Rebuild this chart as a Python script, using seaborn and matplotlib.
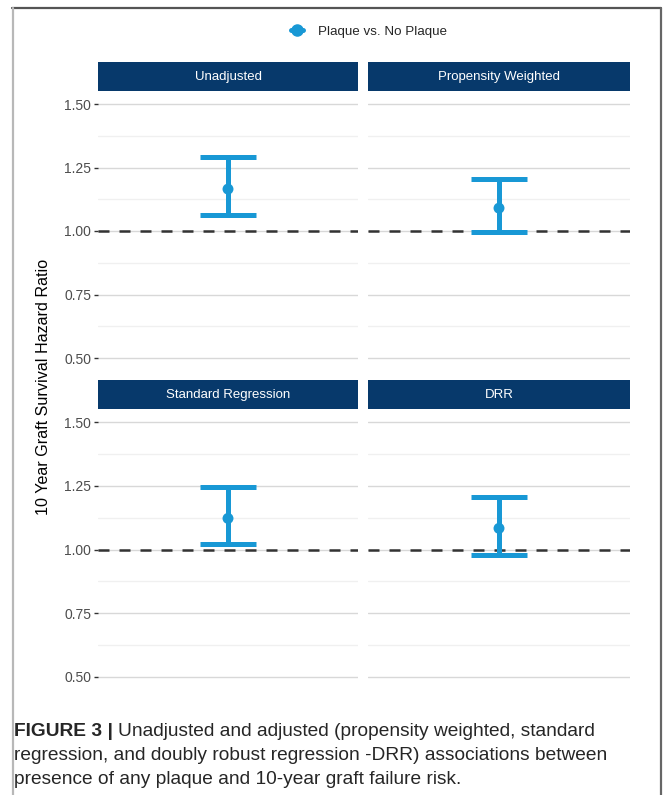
import numpy as np
import pandas as pd
import matplotlib
matplotlib.use("Agg")
import matplotlib.pyplot as plt
import seaborn as sns
from matplotlib.patches import Rectangle
from matplotlib.lines import Line2D

# Hazard ratios with 95% confidence limits per model
models = ["Unadjusted", "Propensity Weighted", "Standard Regression", "DRR"]
hazard_ratio = [1.165, 1.090, 1.122, 1.083]
ci_low = [1.063, 0.996, 1.020, 0.980]
ci_high = [1.290, 1.205, 1.244, 1.205]
comparison = "Plaque vs. No Plaque"
y_ticks = [0.50, 0.75, 1.00, 1.25, 1.50]
y_tick_labels = ["0.50", "0.75", "1.00", "1.25", "1.50"]

df = pd.DataFrame({
    "model": models,
    "hr": hazard_ratio,
    "lo": ci_low,
    "hi": ci_high,
    "x": [0] * len(models),
})

BLUE = "#1898d5"
NAVY = "#07396b"
W, H = 663, 795
DPI = 100

sns.set_theme(style="whitegrid")
plt.rcParams["font.family"] = ["Liberation Sans", "DejaVu Sans"]

g = sns.FacetGrid(df, col="model", col_wrap=2, col_order=models,
                  sharey=True, sharex=True, height=3, aspect=1)


def draw_estimate(data, color=None, **kw):
    ax = plt.gca()
    ax.errorbar(data["x"], data["hr"],
                yerr=[data["hr"] - data["lo"], data["hi"] - data["hr"]],
                fmt="none", ecolor=BLUE, elinewidth=3.6,
                capsize=20.5, capthick=3.6, zorder=4)
    sns.scatterplot(data=data, x="x", y="hr", color=BLUE, s=62,
                    edgecolor="none", ax=ax, zorder=5, legend=False)


g.map_dataframe(draw_estimate)

fig = g.figure
fig.set_size_inches(W / DPI, H / DPI)
fig.set_dpi(DPI)
fig.patch.set_facecolor("white")


def fx(px):
    return px / W


def fy(py):
    return 1 - py / H


# panel boxes in pixel space: (left, top, right, bottom)
panel_boxes = {
    "Unadjusted": (98, 91.3, 358, 370.7),
    "Propensity Weighted": (368, 91.3, 630, 370.7),
    "Standard Regression": (98, 409.3, 358, 689.7),
    "DRR": (368, 409.3, 630, 689.7),
}

for name, ax in zip(models, g.axes.flat):
    l, t, r, b = panel_boxes[name]
    ax.set_position([fx(l), fy(b), (r - l) / W, (b - t) / H])
    ax.set_facecolor("white")
    ax.set_title("")
    ax.set_xlabel("")
    ax.set_ylabel("")
    ax.set_xlim(-0.6, 0.6)
    ax.set_ylim(0.45, 1.55)
    ax.set_xticks([])
    ax.set_yticks(y_ticks)
    ax.set_yticks([0.625, 0.875, 1.125, 1.375], minor=True)
    ax.grid(False)
    ax.grid(True, axis="y", which="major", color="#d8d8d8", lw=1.0)
    ax.grid(True, axis="y", which="minor", color="#f0f0f0", lw=1.0)
    ax.set_axisbelow(True)
    for s in ax.spines.values():
        s.set_visible(False)
    ax.axhline(1.0, color="#333333", lw=1.8, linestyle=(0, (4.4, 4.0)), zorder=3)
    ax.tick_params(axis="y", which="minor", length=0)
    if name in ("Unadjusted", "Standard Regression"):
        ax.set_yticklabels(y_tick_labels)
        ax.tick_params(axis="y", which="major", left=True, length=3, width=1.0,
                       color="#333333", labelcolor="#4d4d4d",
                       labelsize=10, pad=2, labelleft=True)
    else:
        ax.tick_params(axis="y", which="major", left=False, length=0,
                       labelleft=False)

    # facet strip
    strip_top = t - 29.5
    fig.add_artist(Rectangle((fx(l), fy(t)), (r - l) / W, 29.5 / H,
                             transform=fig.transFigure, facecolor=NAVY,
                             edgecolor="none"))
    fig.text(fx((l + r) / 2), fy((strip_top + t) / 2), name, color="white",
             fontsize=9.5, ha="center", va="center")

# shared y-axis title
fig.text(fx(44), fy(387), "10 Year Graft Survival Hazard Ratio",
         rotation=90, fontsize=11.6, ha="center", va="center", color="black")

# legend
handle = Line2D([0], [0], color=BLUE, lw=3.6, marker="o", markersize=8)
fig.legend([handle], [comparison], loc="center",
           bbox_to_anchor=(fx(369), fy(32)), frameon=False,
           handlelength=0.9, handletextpad=1.1, fontsize=9.6)

# outer frame
fig.add_artist(Line2D([fx(12), fx(661)], [fy(8), fy(8)], color="#555555",
                      lw=1.6, transform=fig.transFigure))
fig.add_artist(Line2D([fx(12.5), fx(12.5)], [fy(8), fy(795)], color="#b8b8b8",
                      lw=1.6, transform=fig.transFigure))
fig.add_artist(Line2D([fx(661), fx(661)], [fy(8), fy(795)], color="#666666",
                      lw=1.6, transform=fig.transFigure))

# caption
cap_size = 13.8
cap_family = ["Liberation Sans", "DejaVu Sans"]
t1 = fig.text(fx(14), fy(731), "FIGURE 3 |", fontsize=cap_size, weight="bold",
              va="center", ha="left", family=cap_family)
fig.canvas.draw()
bb = t1.get_window_extent()
fig.text(bb.x1 / W + fx(5), fy(731),
         "Unadjusted and adjusted (propensity weighted, standard",
         fontsize=cap_size, va="center", ha="left", family=cap_family)
fig.text(fx(14), fy(755),
         "regression, and doubly robust regression -DRR) associations between",
         fontsize=cap_size, va="center", ha="left", family=cap_family)
fig.text(fx(14), fy(779),
         "presence of any plaque and 10-year graft failure risk.",
         fontsize=cap_size, va="center", ha="left", family=cap_family)

fig.savefig("out.png", dpi=DPI, facecolor="white")
